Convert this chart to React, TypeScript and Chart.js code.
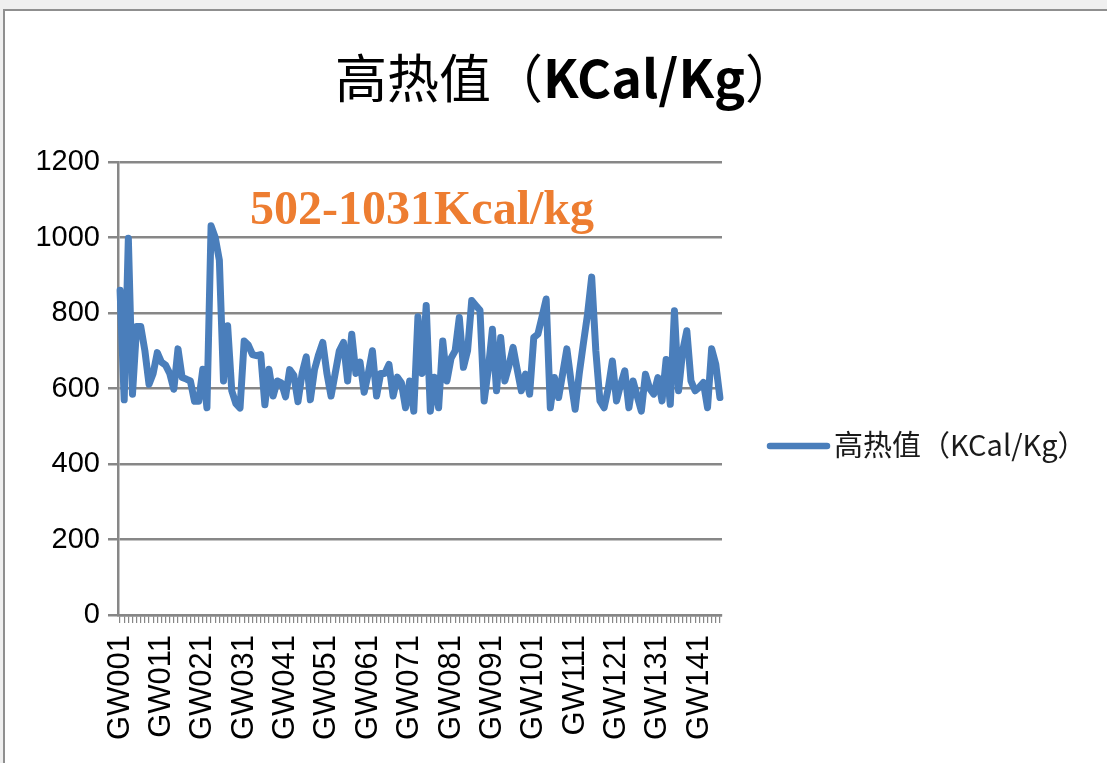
import React, { useEffect, useRef } from "react";
import { Chart, registerables } from "chart.js";

Chart.register(...registerables);

const categories = [
  "GW001","GW002","GW003","GW004","GW005","GW006","GW007","GW008","GW009","GW010",
  "GW011","GW012","GW013","GW014","GW015","GW016","GW017","GW018","GW019","GW020",
  "GW021","GW022","GW023","GW024","GW025","GW026","GW027","GW028","GW029","GW030",
  "GW031","GW032","GW033","GW034","GW035","GW036","GW037","GW038","GW039","GW040",
  "GW041","GW042","GW043","GW044","GW045","GW046","GW047","GW048","GW049","GW050",
  "GW051","GW052","GW053","GW054","GW055","GW056","GW057","GW058","GW059","GW060",
  "GW061","GW062","GW063","GW064","GW065","GW066","GW067","GW068","GW069","GW070",
  "GW071","GW072","GW073","GW074","GW075","GW076","GW077","GW078","GW079","GW080",
  "GW081","GW082","GW083","GW084","GW085","GW086","GW087","GW088","GW089","GW090",
  "GW091","GW092","GW093","GW094","GW095","GW096","GW097","GW098","GW099","GW100",
  "GW101","GW102","GW103","GW104","GW105","GW106","GW107","GW108","GW109","GW110",
  "GW111","GW112","GW113","GW114","GW115","GW116","GW117","GW118","GW119","GW120",
  "GW121","GW122","GW123","GW124","GW125","GW126","GW127","GW128","GW129","GW130",
  "GW131","GW132","GW133","GW134","GW135","GW136","GW137","GW138","GW139","GW140",
  "GW141","GW142","GW143","GW144","GW145","GW146",
];

const heatValues = [
  860, 570, 998, 585, 764, 764, 700, 611, 640, 695,
  670, 662, 640, 598, 705, 629, 625, 620, 566, 566,
  651, 549, 1031, 1000, 940, 620, 766, 594, 560, 548,
  726, 715, 690, 687, 690, 557, 651, 580, 620, 615,
  578, 650, 635, 565, 640, 684, 570, 650, 690, 722,
  640, 580, 640, 700, 722, 620, 744, 640, 670, 590,
  640, 700, 580, 640, 640, 664, 580, 630, 615, 549,
  620, 540, 790, 640, 820, 540, 630, 549, 726, 620,
  680, 700, 788, 656, 700, 833, 820, 807, 567, 650,
  757, 594, 735, 620, 660, 709, 650, 594, 638, 585,
  735, 744, 790, 837, 549, 629, 576, 640, 705, 620,
  545, 640, 720, 797, 895, 700, 567, 549, 600, 673,
  567, 610, 647, 549, 620, 580, 540, 638, 600, 585,
  629, 567, 677, 558, 806, 594, 700, 753, 620, 594,
  603, 616, 549, 705, 664, 576,
];

const seriesName = "高热值（KCal/Kg）";
const titleParts = ["高热值（", "KCal/Kg", "）"];
const rangeNote = "502-1031Kcal/kg";
const yTicks = [0, 200, 400, 600, 800, 1000, 1200];

const LINE_COLOR = "#4A7EBB";
const GRID_COLOR = "#878787";

const decoPlugin = {
  id: "deco",
  beforeDraw(chart: any) {
    const ctx = chart.ctx;
    const w = chart.width;
    const h = chart.height;
    ctx.save();
    ctx.fillStyle = "#efefef";
    ctx.fillRect(0, 0, w, h);
    ctx.fillStyle = "#ffffff";
    ctx.fillRect(4, 10, w - 4, h - 10);
    ctx.strokeStyle = "#8f8f8f";
    ctx.lineWidth = 2;
    ctx.beginPath();
    ctx.moveTo(4, h);
    ctx.lineTo(4, 10);
    ctx.lineTo(w, 10);
    ctx.stroke();
    ctx.restore();
  },
  afterDraw(chart: any) {
    const ctx = chart.ctx;
    ctx.save();
    // Title
    const fonts = [
      '52px "Noto Sans CJK SC"',
      'bold 52px "Noto Sans CJK SC"',
      '52px "Noto Sans CJK SC"',
    ];
    let total = 0;
    const widths: number[] = [];
    titleParts.forEach((p, i) => {
      ctx.font = fonts[i];
      const m = ctx.measureText(p).width;
      widths.push(m);
      total += m;
    });
    let x = 566 - total / 2;
    ctx.fillStyle = "#000000";
    ctx.textBaseline = "middle";
    ctx.textAlign = "left";
    titleParts.forEach((p, i) => {
      ctx.font = fonts[i];
      ctx.fillText(p, x, 78);
      x += widths[i];
    });
    // Range annotation
    ctx.font = 'bold 48px "Liberation Serif"';
    ctx.fillStyle = "#ED7D31";
    ctx.textBaseline = "alphabetic";
    ctx.fillText(rangeNote, 250, 224);
    // Legend
    ctx.strokeStyle = LINE_COLOR;
    ctx.lineWidth = 6.5;
    ctx.lineCap = "round";
    ctx.beginPath();
    ctx.moveTo(770, 446);
    ctx.lineTo(827, 446);
    ctx.stroke();
    ctx.font = '29px "Noto Sans CJK SC"';
    ctx.fillStyle = "#1a1a1a";
    ctx.textBaseline = "middle";
    ctx.fillText(seriesName, 834, 445);
    ctx.restore();
  },
};

export default function App() {
  const ref = useRef<HTMLCanvasElement | null>(null);
  useEffect(() => {
    if (!ref.current) return;
    const chart = new Chart(ref.current, {
      type: "line",
      data: {
        labels: categories,
        datasets: [
          {
            label: seriesName,
            data: heatValues,
            borderColor: LINE_COLOR,
            backgroundColor: LINE_COLOR,
            borderWidth: 7,
            pointRadius: 0,
            tension: 0,
            borderJoinStyle: "round",
            borderCapStyle: "round",
          },
        ],
      },
      options: {
        responsive: false,
        animation: false,
        devicePixelRatio: 1,
        layout: { padding: { left: 0, top: 162, right: 385, bottom: 0 } },
        plugins: {
          legend: { display: false },
          title: { display: false },
          tooltip: { enabled: false },
        },
        scales: {
          x: {
            type: "category",
            offset: true,
            afterFit: (s: any) => {
              s.height = 148;
            },
            grid: {
              display: true,
              drawOnChartArea: false,
              drawTicks: true,
              tickLength: 8,
              color: GRID_COLOR,
              lineWidth: 1.2,
            },
            border: { display: true, color: GRID_COLOR, width: 2.5 },
            ticks: {
              autoSkip: false,
              minRotation: 90,
              maxRotation: 90,
              padding: 12,
              color: "#000000",
              font: { family: '"Liberation Sans"', size: 31 },
              callback: (_v: any, i: number) => (i % 10 === 0 ? categories[i] : ""),
            },
          },
          y: {
            min: 0,
            max: 1200,
            afterFit: (s: any) => {
              s.width = 118;
            },
            afterBuildTicks: (s: any) => {
              s.ticks = yTicks.map((v) => ({ value: v }));
            },
            grid: {
              color: GRID_COLOR,
              lineWidth: 2.5,
              tickLength: 10,
            },
            border: { display: true, color: GRID_COLOR, width: 2.5 },
            ticks: {
              padding: 8,
              color: "#000000",
              font: { family: '"Liberation Sans"', size: 29 },
              callback: (v: any) => String(v),
            },
          },
        },
      },
      plugins: [decoPlugin],
    });
    return () => chart.destroy();
  }, []);
  return (
    <div style={{ position: "absolute", left: 0, top: 0, width: 1107, height: 763 }}>
      <canvas ref={ref} width={1107} height={763} style={{ display: "block" }} />
    </div>
  );
}
